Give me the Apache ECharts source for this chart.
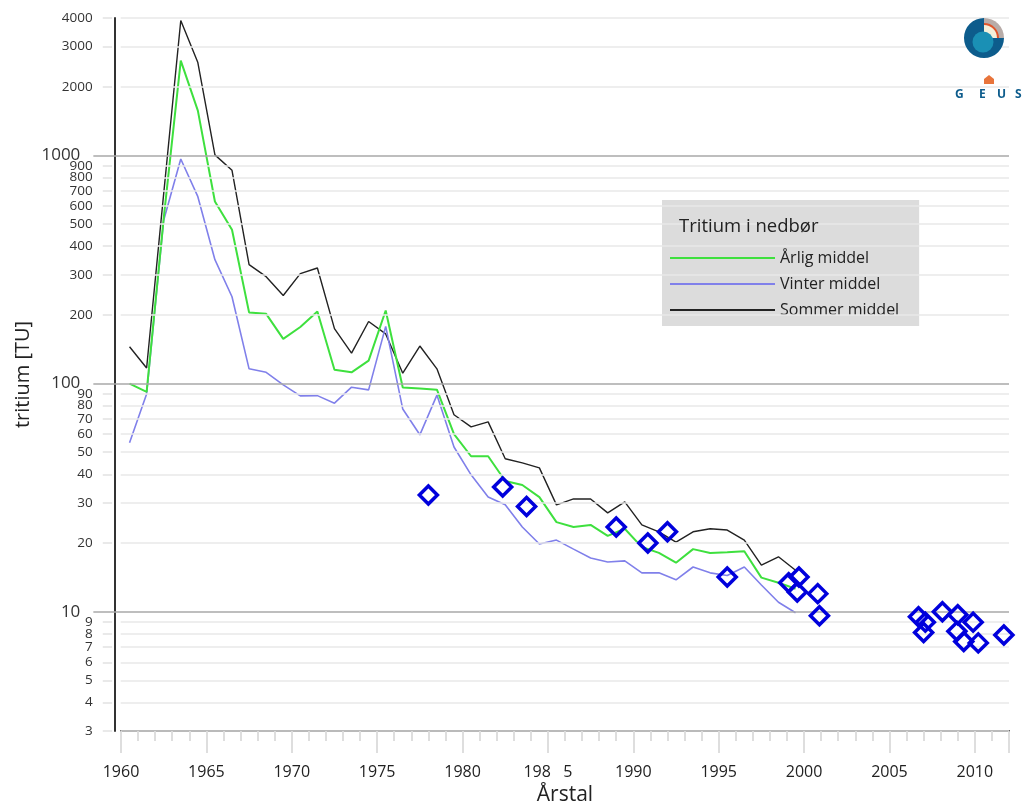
<!DOCTYPE html>
<html>
<head>
<meta charset="utf-8">
<title>Tritium i nedbør</title>
<script src="https://cdn.jsdelivr.net/npm/echarts@6/dist/echarts.min.js"></script>
<style>
  html, body { margin: 0; padding: 0; background: #fff; }
  #chart { width: 1022px; height: 807px; }
</style>
</head>
<body>
<div id="chart"></div>
<script>
// midt i hvert år
var years = [1960.5, 1961.5, 1962.5, 1963.5, 1964.5, 1965.5, 1966.5, 1967.5, 1968.5, 1969.5,
  1970.5, 1971.5, 1972.5, 1973.5, 1974.5, 1975.5, 1976.5, 1977.5, 1978.5, 1979.5,
  1980.5, 1981.5, 1982.5, 1983.5, 1984.5, 1985.5, 1986.5, 1987.5, 1988.5, 1989.5,
  1990.5, 1991.5, 1992.5, 1993.5, 1994.5, 1995.5, 1996.5, 1997.5, 1998.5, 1999.5]
var aarligMiddel = [100, 92, 530, 2600, 1570, 628, 472, 205, 202, 157,
  177, 207, 115, 112, 126, 209, 96, 95, 94, 60,
  48, 48, 37.4, 35.9, 31.8, 24.7, 23.5, 24.0, 21.5, 23.1,
  19.2, 18.1, 16.4, 18.8, 18.1, 18.2, 18.4, 14.1, 13.4, 12.6]
var vinterMiddel = [55, 90, 520, 964, 659, 349, 240, 116, 112, 98.6,
  88.3, 88.5, 82, 96.4, 93.8, 178, 77.3, 59.6, 89, 52.7,
  39.8, 31.8, 29.4, 23.5, 19.8, 20.6, 18.8, 17.2, 16.5, 16.7,
  14.8, 14.8, 13.8, 15.7, 14.8, 14.4, 15.7, 13.1, 11.0, 9.9]
var sommerMiddel = [145, 117, 680, 3900, 2550, 1005, 860, 332, 294, 243,
  303, 321, 174, 136, 187, 165, 111, 146, 116, 73,
  64.6, 67.9, 46.8, 44.9, 42.7, 29.4, 31.2, 31.2, 27.1, 30.3,
  24.0, 22.4, 20.2, 22.4, 23.1, 22.8, 20.6, 16.0, 17.4, 15.2]

// enkeltmålinger (ruder)
var maalingAar = [1978.0, 1982.35, 1983.75, 1989.0, 1990.85, 1992.0, 1995.5, 1999.1, 1999.7, 1999.6,
  2000.8, 2000.9, 2006.7, 2007.1, 2007.0, 2008.1, 2009.0, 2009.9, 2008.95, 2009.35, 2010.2, 2011.7]
var maalingTU = [32.5, 35.2, 28.9, 23.5, 20.0, 22.4, 14.2, 13.4, 14.2, 12.2,
  12.0, 9.6, 9.5, 9.0, 8.1, 10.0, 9.7, 9.0, 8.2, 7.4, 7.3, 7.9]

// y-akse inddeling
var majorTicks = [10, 100, 1000]
var minorTicks = [3, 4, 5, 6, 7, 8, 9, 20, 30, 40, 50, 60, 70, 80, 90,
  200, 300, 400, 500, 600, 700, 800, 900, 2000, 3000, 4000]

var fontFamily = 'Open Sans'

function pairs(xs, ys) {
  return xs.map(function (x, i) { return [x, ys[i]] })
}

// gitterlinjer tegnes i et ekstra grid, der starter lidt til venstre for y-aksen
var gridLines = []
majorTicks.forEach(function (v) {
  gridLines.push([
    { coord: [1958.4, v], lineStyle: { color: '#a9a9a9', width: 1.5, type: 'solid' },
      label: { show: true, formatter: String(v), fontSize: 17, distance: 13 } },
    { coord: [2012, v] }
  ])
})
minorTicks.forEach(function (v) {
  gridLines.push([
    { coord: [1960, v], lineStyle: { color: '#e9e9e9', width: 1.5, type: 'solid' }, label: { show: false } },
    { coord: [2012, v] }
  ])
  gridLines.push([
    { coord: [1958.95, v], lineStyle: { color: '#e2e2e2', width: 1.5, type: 'solid' },
      label: { show: true, formatter: String(v), fontSize: 13.5, distance: 10 } },
    { coord: [1959.5, v] }
  ])
})

var myChart = echarts.init(document.getElementById('chart'))
var option = {
  animation: false,
  backgroundColor: '#fff',
  textStyle: { fontFamily: fontFamily },
  grid: [
    { left: 121, right: 13, top: 18, bottom: 76, containLabel: false, outerBoundsMode: 'none' },
    { left: 93, right: 13, top: 18, bottom: 76, containLabel: false, outerBoundsMode: 'none' }
  ],
  legend: {
    data: ['Årlig middel', 'Vinter middel', 'Sommer middel'],
    orient: 'vertical',
    left: 662,
    top: 200,
    padding: [50, 20, 8, 8],
    backgroundColor: '#dcdcdc',
    icon: 'rect',
    itemWidth: 105,
    itemHeight: 2,
    itemGap: 10,
    selectedMode: false,
    textStyle: { fontSize: 16, color: '#222', fontFamily: fontFamily }
  },
  xAxis: [
    {
      type: 'value',
      min: 1960,
      max: 2012,
      interval: 5,
      name: 'Årstal',
      nameLocation: 'middle',
      nameGap: 53,
      nameTextStyle: { fontSize: 21, color: '#222', fontFamily: fontFamily },
      axisLine: { lineStyle: { color: '#333', width: 2 } },
      axisTick: { length: 22, lineStyle: { color: '#d4d4d4', width: 1.5 } },
      minorTick: { show: true, splitNumber: 5, length: 10, lineStyle: { color: '#d4d4d4', width: 1.5 } },
      axisLabel: {
        margin: 33,
        fontSize: 16,
        color: '#222',
        formatter: function (v) {
          if (v % 5 !== 0) return ''
          return v === 1985 ? '198   5' : String(v)
        }
      },
      splitLine: { show: false }
    },
    { gridIndex: 1, type: 'value', min: 1958.38, max: 2012, show: false }
  ],
  yAxis: [
    {
      type: 'log',
      logBase: 10,
      min: 3,
      max: 4000,
      offset: 6,
      name: 'tritium [TU]',
      nameLocation: 'middle',
      nameGap: 82,
      nameTextStyle: { fontSize: 20, color: '#222', fontFamily: fontFamily },
      axisLine: { show: true, lineStyle: { color: '#333', width: 2 } },
      axisTick: { show: false },
      axisLabel: { show: false },
      splitLine: { show: false }
    },
    { gridIndex: 1, type: 'log', logBase: 10, min: 3, max: 4000, show: false }
  ],
  series: [
    {
      name: 'gitter',
      type: 'line',
      xAxisIndex: 1,
      yAxisIndex: 1,
      data: [],
      silent: true,
      clip: false,
      z: 1,
      markLine: {
        silent: true,
        symbol: ['none', 'none'],
        animation: false,
        label: { position: 'start', color: '#333', fontFamily: fontFamily },
        emphasis: { disabled: true },
        data: gridLines
      }
    },
    {
      name: 'Sommer middel',
      type: 'line',
      data: pairs(years, sommerMiddel),
      showSymbol: false,
      z: 3,
      itemStyle: { color: '#222' },
      lineStyle: { color: '#222', width: 1.4 }
    },
    {
      name: 'Vinter middel',
      type: 'line',
      data: pairs(years, vinterMiddel),
      showSymbol: false,
      z: 3,
      itemStyle: { color: '#8080ea' },
      lineStyle: { color: '#8080ea', width: 1.6 }
    },
    {
      name: 'Årlig middel',
      type: 'line',
      data: pairs(years, aarligMiddel),
      showSymbol: false,
      z: 4,
      itemStyle: { color: '#3ee03e' },
      lineStyle: { color: '#3ee03e', width: 2 }
    },
    {
      name: 'Målinger',
      type: 'scatter',
      data: pairs(maalingAar, maalingTU),
      symbol: 'diamond',
      symbolSize: 18,
      z: 5,
      itemStyle: { color: 'rgba(0,0,0,0)', borderColor: '#0000dc', borderWidth: 3.5, opacity: 1 }
    }
  ],
  graphic: [
    {
      type: 'text', left: 679, top: 217, z: 100,
      style: { text: 'Tritium i nedbør', fontSize: 18.5, fill: '#222', fontFamily: fontFamily }
    },
    // GEUS logo
    { type: 'sector', z: 100, shape: { cx: 984, cy: 38, r: 20, r0: 0, startAngle: -Math.PI / 2, endAngle: 0 }, style: { fill: '#b8aca8' } },
    { type: 'sector', z: 100, shape: { cx: 984, cy: 38, r: 15, r0: 0, startAngle: -Math.PI / 2, endAngle: 0 }, style: { fill: '#e0552b' } },
    { type: 'sector', z: 100, shape: { cx: 984, cy: 38, r: 13, r0: 0, startAngle: -Math.PI / 2, endAngle: 0 }, style: { fill: '#f4f0da' } },
    { type: 'sector', z: 100, shape: { cx: 984, cy: 38, r: 20, r0: 0, startAngle: 0, endAngle: Math.PI * 1.5 }, style: { fill: '#0d5c8c' } },
    { type: 'circle', z: 101, shape: { cx: 983, cy: 42, r: 10.5 }, style: { fill: '#1a90b5' } },
    { type: 'polygon', z: 100, shape: { points: [[984, 84], [984, 79], [989, 75], [994, 79], [994, 84]] }, style: { fill: '#e8743b' } },
    { type: 'text', z: 100, left: 955, top: 89, style: { text: 'G', fontSize: 12, fontWeight: 'bold', fill: '#0d5c8c', fontFamily: fontFamily } },
    { type: 'text', z: 100, left: 979, top: 89, style: { text: 'E', fontSize: 12, fontWeight: 'bold', fill: '#0d5c8c', fontFamily: fontFamily } },
    { type: 'text', z: 100, left: 997, top: 89, style: { text: 'U', fontSize: 12, fontWeight: 'bold', fill: '#0d5c8c', fontFamily: fontFamily } },
    { type: 'text', z: 100, left: 1015, top: 89, style: { text: 'S', fontSize: 12, fontWeight: 'bold', fill: '#0d5c8c', fontFamily: fontFamily } }
  ]
}
myChart.setOption(option)
</script>
</body>
</html>
